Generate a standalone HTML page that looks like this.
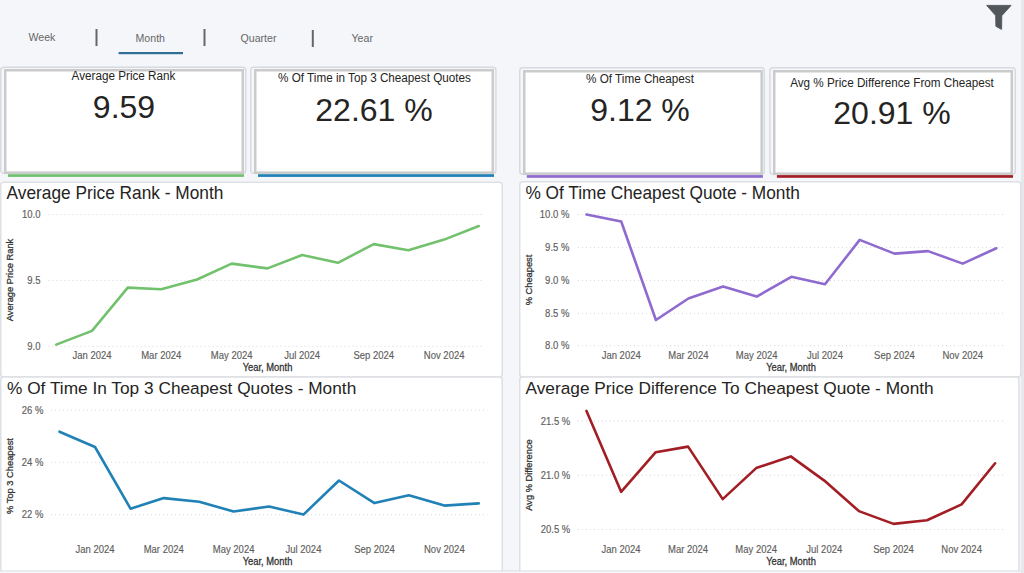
<!DOCTYPE html>
<html><head><meta charset="utf-8"><style>
html,body{margin:0;padding:0;background:#F4F6FA;width:1024px;height:573px;overflow:hidden}
svg{display:block;font-family:"Liberation Sans",sans-serif}
</style></head><body>
<svg width="1024" height="573" viewBox="0 0 1024 573">
<rect width="1024" height="573" fill="#F4F6FA"/>
<text transform="translate(28.5,41.2) scale(0.965,1)" font-size="11" fill="#666666" text-anchor="start" font-weight="normal">Week</text>
<text transform="translate(135.5,41.7) scale(0.965,1)" font-size="11" fill="#666666" text-anchor="start" font-weight="normal">Month</text>
<text transform="translate(240.5,42.3) scale(0.965,1)" font-size="11" fill="#666666" text-anchor="start" font-weight="normal">Quarter</text>
<text transform="translate(351.5,42.3) scale(0.965,1)" font-size="11" fill="#666666" text-anchor="start" font-weight="normal">Year</text>
<rect x="95.5" y="29" width="2" height="17" fill="#666666"/>
<rect x="203.5" y="29" width="2" height="17" fill="#666666"/>
<rect x="311.8" y="30" width="2" height="17" fill="#666666"/>
<rect x="118.6" y="52" width="64.4" height="2.2" fill="#2F6F96"/>
<path d="M986.7,5.4 L1011.1,5.4 L1001.8,15.7 L1001.6,29.4 L995.9,26.3 L995.7,15.6 Z" fill="#50565A" stroke="#50565A" stroke-width="0.9" stroke-linejoin="round"/>
<rect x="1021" y="0" width="3" height="573" fill="#E6E8EB"/>
<rect x="0.75" y="67.25" width="245.0" height="106.0" rx="3" fill="#F5F7FA" stroke="#D6D9DE" stroke-width="1.4"/>
<rect x="5.25" y="70.25" width="237.5" height="102.4" fill="#fff" stroke="#CBCBCB" stroke-width="2.5"/>
<rect x="8" y="174.2" width="236" height="2.700000000000017" fill="#72C16D"/>
<text transform="translate(123.5,80.1) scale(0.975,1)" font-size="12" fill="#252423" text-anchor="middle" font-weight="normal">Average Price Rank</text>
<text transform="translate(124,118.3) scale(1.0,1)" font-size="32" fill="#252423" text-anchor="middle" font-weight="normal">9.59</text>
<rect x="250.75" y="67.25" width="245.2" height="106.0" rx="3" fill="#F5F7FA" stroke="#D6D9DE" stroke-width="1.4"/>
<rect x="255.25" y="70.25" width="237.5" height="102.4" fill="#fff" stroke="#CBCBCB" stroke-width="2.5"/>
<rect x="258" y="174.2" width="236" height="2.700000000000017" fill="#2081B6"/>
<text transform="translate(374.5,81.8) scale(0.975,1)" font-size="12" fill="#252423" text-anchor="middle" font-weight="normal">% Of Time in Top 3 Cheapest Quotes</text>
<text transform="translate(374,121.2) scale(1.0,1)" font-size="32" fill="#252423" text-anchor="middle" font-weight="normal">22.61 %</text>
<rect x="519.75" y="67.75" width="244.5" height="106.5" rx="3" fill="#F5F7FA" stroke="#D6D9DE" stroke-width="1.4"/>
<rect x="524.25" y="71.25" width="237.39999999999998" height="102.4" fill="#fff" stroke="#CBCBCB" stroke-width="2.5"/>
<rect x="526.8" y="175.1" width="236.10000000000002" height="2.700000000000017" fill="#8F6ACF"/>
<text transform="translate(640,83) scale(0.975,1)" font-size="12" fill="#252423" text-anchor="middle" font-weight="normal">% Of Time Cheapest</text>
<text transform="translate(640,121) scale(1.0,1)" font-size="32" fill="#252423" text-anchor="middle" font-weight="normal">9.12 %</text>
<rect x="769.95" y="67.75" width="245.29999999999995" height="106.5" rx="3" fill="#F5F7FA" stroke="#D6D9DE" stroke-width="1.4"/>
<rect x="774.25" y="71.25" width="237.5" height="102.4" fill="#fff" stroke="#CBCBCB" stroke-width="2.5"/>
<rect x="776.9" y="175.1" width="236.10000000000002" height="2.700000000000017" fill="#A21D24"/>
<text transform="translate(892,87) scale(0.975,1)" font-size="12" fill="#252423" text-anchor="middle" font-weight="normal">Avg % Price Difference From Cheapest</text>
<text transform="translate(892,124) scale(1.0,1)" font-size="32" fill="#252423" text-anchor="middle" font-weight="normal">20.91 %</text>
<rect x="0.75" y="182.25" width="501.5" height="194.7" rx="3" fill="#fff" stroke="#DDE0E4" stroke-width="1.5"/>
<text transform="translate(6.6,199) scale(0.9818181818181818,1)" font-size="17.6" fill="#252423" text-anchor="start" font-weight="normal">Average Price Rank - Month</text>
<line x1="48.5" y1="214.6" x2="484" y2="214.6" stroke="#D6D6D6" stroke-width="1" stroke-dasharray="1 3"/>
<text transform="translate(40.5,218.2) scale(0.95,1)" font-size="10" fill="#605E5C" text-anchor="end" font-weight="normal" stroke="#605E5C" stroke-width="0.15">10.0</text>
<line x1="48.5" y1="280.6" x2="484" y2="280.6" stroke="#D6D6D6" stroke-width="1" stroke-dasharray="1 3"/>
<text transform="translate(40.5,284.20000000000005) scale(0.95,1)" font-size="10" fill="#605E5C" text-anchor="end" font-weight="normal" stroke="#605E5C" stroke-width="0.15">9.5</text>
<line x1="48.5" y1="346.3" x2="484" y2="346.3" stroke="#D6D6D6" stroke-width="1" stroke-dasharray="1 3"/>
<text transform="translate(40.5,349.90000000000003) scale(0.95,1)" font-size="10" fill="#605E5C" text-anchor="end" font-weight="normal" stroke="#605E5C" stroke-width="0.15">9.0</text>
<text transform="translate(13,280) rotate(-90) scale(0.97,1)" font-size="9.6" fill="#333333" text-anchor="middle" font-weight="normal" stroke="#333333" stroke-width="0.28">Average Price Rank</text>
<polyline points="56.20,344.6 91.99,330.9 127.79,287.6 161.27,289.3 197.07,279.5 231.71,263.6 267.50,268.4 302.14,255 337.93,262.8 373.73,244.1 408.37,250.2 444.16,239.6 478.80,226" fill="none" stroke="#72C16D" stroke-width="2.6" stroke-linejoin="round" stroke-linecap="round"/>
<text transform="translate(91.99398907103826,358.59999999999997) scale(0.95,1)" font-size="10" fill="#605E5C" text-anchor="middle" font-weight="normal" stroke="#605E5C" stroke-width="0.15">Jan 2024</text>
<text transform="translate(161.2726775956284,358.59999999999997) scale(0.95,1)" font-size="10" fill="#605E5C" text-anchor="middle" font-weight="normal" stroke="#605E5C" stroke-width="0.15">Mar 2024</text>
<text transform="translate(231.70601092896175,358.59999999999997) scale(0.95,1)" font-size="10" fill="#605E5C" text-anchor="middle" font-weight="normal" stroke="#605E5C" stroke-width="0.15">May 2024</text>
<text transform="translate(302.1393442622951,358.59999999999997) scale(0.95,1)" font-size="10" fill="#605E5C" text-anchor="middle" font-weight="normal" stroke="#605E5C" stroke-width="0.15">Jul 2024</text>
<text transform="translate(373.7273224043716,358.59999999999997) scale(0.95,1)" font-size="10" fill="#605E5C" text-anchor="middle" font-weight="normal" stroke="#605E5C" stroke-width="0.15">Sep 2024</text>
<text transform="translate(444.16065573770493,358.59999999999997) scale(0.95,1)" font-size="10" fill="#605E5C" text-anchor="middle" font-weight="normal" stroke="#605E5C" stroke-width="0.15">Nov 2024</text>
<text transform="translate(267.5,370.6) scale(0.92,1)" font-size="10.2" fill="#333333" text-anchor="middle" font-weight="normal" stroke="#333333" stroke-width="0.28">Year, Month</text>
<rect x="519.75" y="181.75" width="501.0" height="195.2" rx="3" fill="#fff" stroke="#DDE0E4" stroke-width="1.5"/>
<text transform="translate(525.4,199) scale(0.9874285714285715,1)" font-size="17.5" fill="#252423" text-anchor="start" font-weight="normal">% Of Time Cheapest Quote - Month</text>
<line x1="578" y1="214.5" x2="1003" y2="214.5" stroke="#D6D6D6" stroke-width="1" stroke-dasharray="1 3"/>
<text transform="translate(569.4,218.1) scale(0.95,1)" font-size="10" fill="#605E5C" text-anchor="end" font-weight="normal" stroke="#605E5C" stroke-width="0.15">10.0 %</text>
<line x1="578" y1="247.4" x2="1003" y2="247.4" stroke="#D6D6D6" stroke-width="1" stroke-dasharray="1 3"/>
<text transform="translate(569.4,251.0) scale(0.95,1)" font-size="10" fill="#605E5C" text-anchor="end" font-weight="normal" stroke="#605E5C" stroke-width="0.15">9.5 %</text>
<line x1="578" y1="280.4" x2="1003" y2="280.4" stroke="#D6D6D6" stroke-width="1" stroke-dasharray="1 3"/>
<text transform="translate(569.4,284.0) scale(0.95,1)" font-size="10" fill="#605E5C" text-anchor="end" font-weight="normal" stroke="#605E5C" stroke-width="0.15">9.0 %</text>
<line x1="578" y1="313.3" x2="1003" y2="313.3" stroke="#D6D6D6" stroke-width="1" stroke-dasharray="1 3"/>
<text transform="translate(569.4,316.90000000000003) scale(0.95,1)" font-size="10" fill="#605E5C" text-anchor="end" font-weight="normal" stroke="#605E5C" stroke-width="0.15">8.5 %</text>
<line x1="578" y1="345.7" x2="1003" y2="345.7" stroke="#D6D6D6" stroke-width="1" stroke-dasharray="1 3"/>
<text transform="translate(569.4,349.3) scale(0.95,1)" font-size="10" fill="#605E5C" text-anchor="end" font-weight="normal" stroke="#605E5C" stroke-width="0.15">8.0 %</text>
<text transform="translate(532,280) rotate(-90) scale(0.97,1)" font-size="9.6" fill="#333333" text-anchor="middle" font-weight="normal" stroke="#333333" stroke-width="0.28">% Cheapest</text>
<polyline points="586.50,214.5 621.21,221.5 655.92,320 688.39,298.5 723.10,286.5 756.69,296.6 791.40,276.8 824.99,284.3 859.70,239.9 894.41,253.6 928.00,251.1 962.71,263.6 996.30,248.3" fill="none" stroke="#8F6ACF" stroke-width="2.6" stroke-linejoin="round" stroke-linecap="round"/>
<text transform="translate(621.2098360655738,358.59999999999997) scale(0.95,1)" font-size="10" fill="#605E5C" text-anchor="middle" font-weight="normal" stroke="#605E5C" stroke-width="0.15">Jan 2024</text>
<text transform="translate(688.3901639344263,358.59999999999997) scale(0.95,1)" font-size="10" fill="#605E5C" text-anchor="middle" font-weight="normal" stroke="#605E5C" stroke-width="0.15">Mar 2024</text>
<text transform="translate(756.6901639344262,358.59999999999997) scale(0.95,1)" font-size="10" fill="#605E5C" text-anchor="middle" font-weight="normal" stroke="#605E5C" stroke-width="0.15">May 2024</text>
<text transform="translate(824.9901639344262,358.59999999999997) scale(0.95,1)" font-size="10" fill="#605E5C" text-anchor="middle" font-weight="normal" stroke="#605E5C" stroke-width="0.15">Jul 2024</text>
<text transform="translate(894.4098360655737,358.59999999999997) scale(0.95,1)" font-size="10" fill="#605E5C" text-anchor="middle" font-weight="normal" stroke="#605E5C" stroke-width="0.15">Sep 2024</text>
<text transform="translate(962.7098360655737,358.59999999999997) scale(0.95,1)" font-size="10" fill="#605E5C" text-anchor="middle" font-weight="normal" stroke="#605E5C" stroke-width="0.15">Nov 2024</text>
<text transform="translate(791,370.6) scale(0.92,1)" font-size="10.2" fill="#333333" text-anchor="middle" font-weight="normal" stroke="#333333" stroke-width="0.28">Year, Month</text>
<rect x="0.75" y="377.05" width="501.5" height="198.2" rx="3" fill="#fff" stroke="#DDE0E4" stroke-width="1.5"/>
<text transform="translate(7,394) scale(1.0105263157894737,1)" font-size="17.1" fill="#252423" text-anchor="start" font-weight="normal">% Of Time In Top 3 Cheapest Quotes - Month</text>
<line x1="51" y1="410.1" x2="487.5" y2="410.1" stroke="#D6D6D6" stroke-width="1" stroke-dasharray="1 3"/>
<text transform="translate(43.5,413.70000000000005) scale(0.95,1)" font-size="10" fill="#605E5C" text-anchor="end" font-weight="normal" stroke="#605E5C" stroke-width="0.15">26 %</text>
<line x1="51" y1="462.4" x2="487.5" y2="462.4" stroke="#D6D6D6" stroke-width="1" stroke-dasharray="1 3"/>
<text transform="translate(43.5,466.0) scale(0.95,1)" font-size="10" fill="#605E5C" text-anchor="end" font-weight="normal" stroke="#605E5C" stroke-width="0.15">24 %</text>
<line x1="51" y1="514.8" x2="487.5" y2="514.8" stroke="#D6D6D6" stroke-width="1" stroke-dasharray="1 3"/>
<text transform="translate(43.5,518.4) scale(0.95,1)" font-size="10" fill="#605E5C" text-anchor="end" font-weight="normal" stroke="#605E5C" stroke-width="0.15">22 %</text>
<text transform="translate(13,476) rotate(-90) scale(0.97,1)" font-size="9.6" fill="#333333" text-anchor="middle" font-weight="normal" stroke="#333333" stroke-width="0.28">% Top 3 Cheapest</text>
<polyline points="59.50,431.7 95.01,447.0 130.51,508.7 163.73,498.1 199.23,501.7 233.59,511.5 269.10,506.5 303.46,514.6 338.97,480.5 374.47,503.1 408.83,495.3 444.34,505.6 478.70,503.4" fill="none" stroke="#2081B6" stroke-width="2.6" stroke-linejoin="round" stroke-linecap="round"/>
<text transform="translate(95.00601092896174,553.4) scale(0.95,1)" font-size="10" fill="#605E5C" text-anchor="middle" font-weight="normal" stroke="#605E5C" stroke-width="0.15">Jan 2024</text>
<text transform="translate(163.7273224043716,553.4) scale(0.95,1)" font-size="10" fill="#605E5C" text-anchor="middle" font-weight="normal" stroke="#605E5C" stroke-width="0.15">Mar 2024</text>
<text transform="translate(233.59398907103827,553.4) scale(0.95,1)" font-size="10" fill="#605E5C" text-anchor="middle" font-weight="normal" stroke="#605E5C" stroke-width="0.15">May 2024</text>
<text transform="translate(303.4606557377049,553.4) scale(0.95,1)" font-size="10" fill="#605E5C" text-anchor="middle" font-weight="normal" stroke="#605E5C" stroke-width="0.15">Jul 2024</text>
<text transform="translate(374.4726775956284,553.4) scale(0.95,1)" font-size="10" fill="#605E5C" text-anchor="middle" font-weight="normal" stroke="#605E5C" stroke-width="0.15">Sep 2024</text>
<text transform="translate(444.339344262295,553.4) scale(0.95,1)" font-size="10" fill="#605E5C" text-anchor="middle" font-weight="normal" stroke="#605E5C" stroke-width="0.15">Nov 2024</text>
<text transform="translate(267.5,565) scale(0.92,1)" font-size="10.2" fill="#333333" text-anchor="middle" font-weight="normal" stroke="#333333" stroke-width="0.28">Year, Month</text>
<rect x="519.75" y="377.05" width="499.20000000000005" height="198.2" rx="3" fill="#fff" stroke="#DDE0E4" stroke-width="1.5"/>
<text transform="translate(525.5,394) scale(1.0105263157894737,1)" font-size="17.1" fill="#252423" text-anchor="start" font-weight="normal">Average Price Difference To Cheapest Quote - Month</text>
<line x1="578" y1="421" x2="1003" y2="421" stroke="#D6D6D6" stroke-width="1" stroke-dasharray="1 3"/>
<text transform="translate(570.3,424.6) scale(0.95,1)" font-size="10" fill="#605E5C" text-anchor="end" font-weight="normal" stroke="#605E5C" stroke-width="0.15">21.5 %</text>
<line x1="578" y1="475.1" x2="1003" y2="475.1" stroke="#D6D6D6" stroke-width="1" stroke-dasharray="1 3"/>
<text transform="translate(570.3,478.70000000000005) scale(0.95,1)" font-size="10" fill="#605E5C" text-anchor="end" font-weight="normal" stroke="#605E5C" stroke-width="0.15">21.0 %</text>
<line x1="578" y1="529.5" x2="1003" y2="529.5" stroke="#D6D6D6" stroke-width="1" stroke-dasharray="1 3"/>
<text transform="translate(570.3,533.1) scale(0.95,1)" font-size="10" fill="#605E5C" text-anchor="end" font-weight="normal" stroke="#605E5C" stroke-width="0.15">20.5 %</text>
<text transform="translate(532,475) rotate(-90) scale(0.97,1)" font-size="9.6" fill="#333333" text-anchor="middle" font-weight="normal" stroke="#333333" stroke-width="0.28">Avg % Difference</text>
<polyline points="586.50,410.9 621.11,491.8 655.72,452.2 688.09,446.6 722.70,499.1 756.19,468.1 790.80,456.4 824.29,480.6 858.90,511.1 893.51,523.9 927.00,520.3 961.61,504.4 995.10,463.3" fill="none" stroke="#A21D24" stroke-width="2.6" stroke-linejoin="round" stroke-linecap="round"/>
<text transform="translate(621.1081967213115,553.4) scale(0.95,1)" font-size="10" fill="#605E5C" text-anchor="middle" font-weight="normal" stroke="#605E5C" stroke-width="0.15">Jan 2024</text>
<text transform="translate(688.0918032786885,553.4) scale(0.95,1)" font-size="10" fill="#605E5C" text-anchor="middle" font-weight="normal" stroke="#605E5C" stroke-width="0.15">Mar 2024</text>
<text transform="translate(756.1918032786886,553.4) scale(0.95,1)" font-size="10" fill="#605E5C" text-anchor="middle" font-weight="normal" stroke="#605E5C" stroke-width="0.15">May 2024</text>
<text transform="translate(824.2918032786886,553.4) scale(0.95,1)" font-size="10" fill="#605E5C" text-anchor="middle" font-weight="normal" stroke="#605E5C" stroke-width="0.15">Jul 2024</text>
<text transform="translate(893.5081967213115,553.4) scale(0.95,1)" font-size="10" fill="#605E5C" text-anchor="middle" font-weight="normal" stroke="#605E5C" stroke-width="0.15">Sep 2024</text>
<text transform="translate(961.6081967213115,553.4) scale(0.95,1)" font-size="10" fill="#605E5C" text-anchor="middle" font-weight="normal" stroke="#605E5C" stroke-width="0.15">Nov 2024</text>
<text transform="translate(791,565) scale(0.92,1)" font-size="10.2" fill="#333333" text-anchor="middle" font-weight="normal" stroke="#333333" stroke-width="0.28">Year, Month</text>
<rect x="0" y="570.3" width="1021" height="1.4" fill="#E2E3E6"/>
<rect x="0" y="571.7" width="1021" height="1.3" fill="#F4F6FA"/>
</svg>
</body></html>
